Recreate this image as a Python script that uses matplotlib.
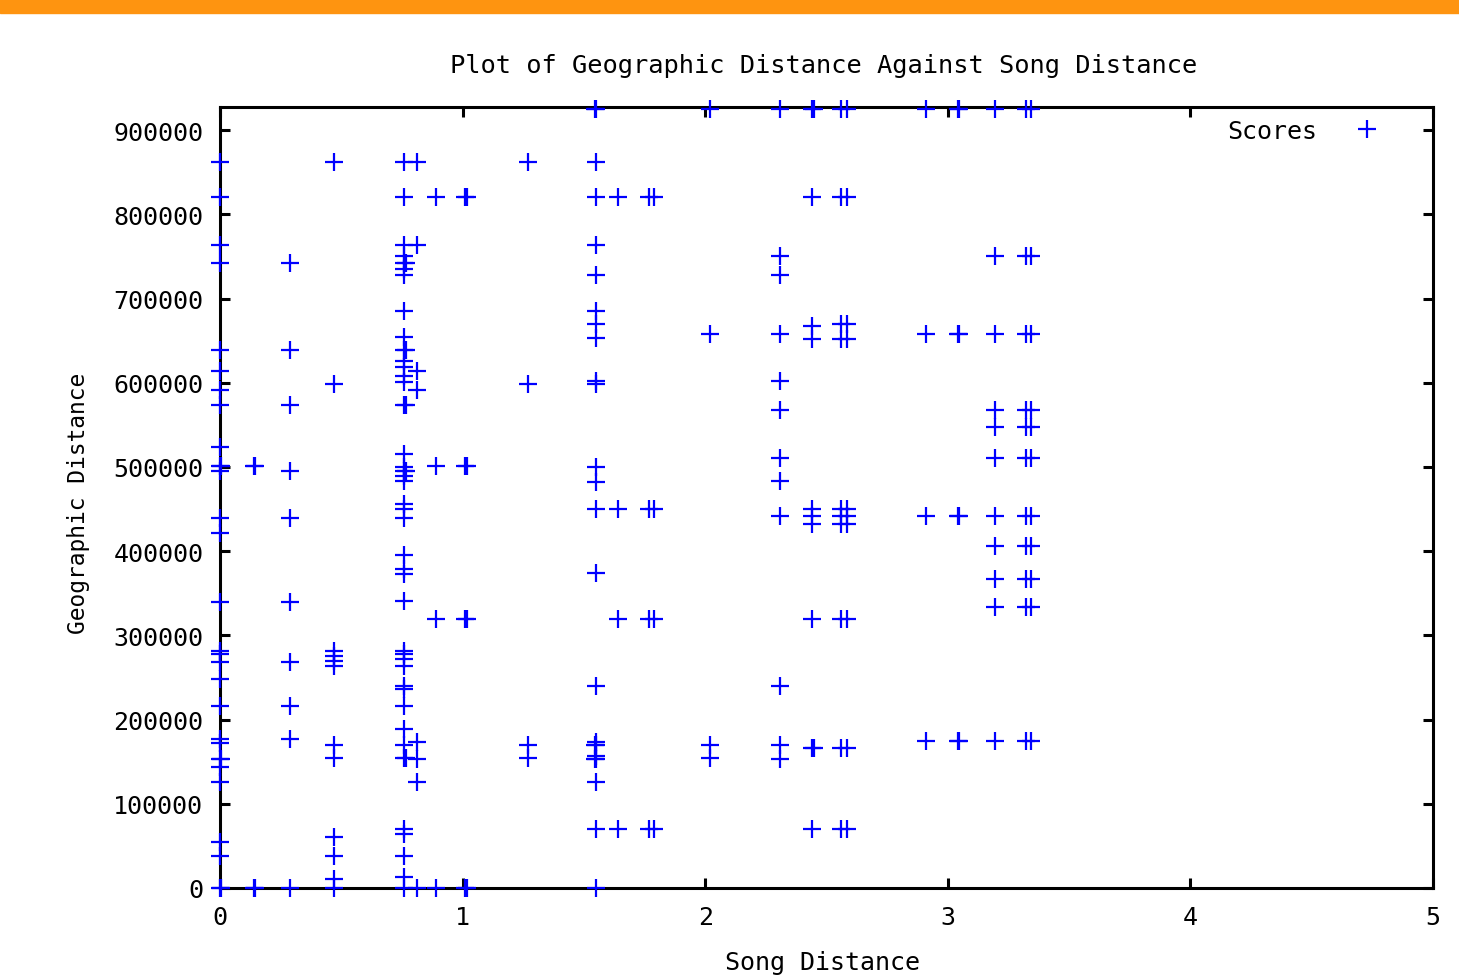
import matplotlib
matplotlib.use("Agg")
import matplotlib.pyplot as plt

# Song distance columns and the geographic distances observed at each
song_distance = [
    0.0, 0.006, 0.14, 0.146, 0.29, 0.47, 0.76, 0.766, 0.81, 0.89, 1.01, 1.02,
    1.27, 1.545, 1.55, 1.64, 1.77, 1.79, 2.02, 2.31, 2.44, 2.447, 2.56, 2.585,
    2.91, 3.04, 3.047, 3.195, 3.322, 3.343,
]

geo_distance = [
    # 0.0
    [862000, 820500, 763500, 742000, 639000, 614000, 591000, 573500, 523500,
     501000, 495000, 439000, 421500, 339500, 281500, 278000, 268000, 248000,
     216000, 177000, 172000, 153000, 143500, 126000, 54500, 38000, 0],
    # 0.006
    [501000, 153000, 0],
    # 0.14
    [501000, 0],
    # 0.146
    [501000, 0],
    # 0.29
    [742000, 639000, 573500, 495000, 439000, 340000, 268000, 216000, 177000, 0],
    # 0.47
    [862000, 598500, 282000, 276000, 270000, 264000, 170000, 154000, 60000,
     38000, 10500, 0],
    # 0.76
    [862000, 820500, 763500, 750500, 742000, 735000, 728000, 685000, 654000,
     639000, 625500, 618500, 608000, 601000, 573500, 515500, 500000, 495000,
     489000, 483500, 456000, 450000, 439500, 395500, 379000, 373000, 340500,
     281500, 278000, 272000, 263500, 240000, 236500, 216000, 189000, 170000,
     154500, 70000, 64000, 38000, 13000, 0],
    # 0.766
    [742000, 639000, 573500, 495000, 154000],
    # 0.81
    [862000, 763500, 614000, 591000, 173000, 153000, 126000, 0],
    # 0.89
    [820500, 501000, 320000, 0],
    # 1.01
    [820500, 501000, 320000, 0],
    # 1.02
    [820500, 501000, 320000, 0],
    # 1.27
    [862000, 598500, 170000, 154000],
    # 1.545
    [925000, 170000, 153000],
    # 1.55
    [925000, 862000, 820500, 763500, 728000, 685000, 670000, 653000, 602000,
     598500, 500000, 482000, 450000, 374000, 240000, 173000, 170000, 157000,
     153000, 126000, 70000, 0],
    # 1.64
    [820500, 450000, 320000, 70000],
    # 1.77
    [820500, 450000, 320000, 70000],
    # 1.79
    [820500, 450000, 320000, 70000],
    # 2.02
    [925000, 658000, 170000, 154000],
    # 2.31
    [925000, 750500, 728000, 658000, 602000, 567500, 510500, 483500, 441500,
     240000, 170000, 153000],
    # 2.44
    [925000, 820500, 667000, 652000, 450000, 441500, 432000, 320000, 166000,
     70000],
    # 2.447
    [925000, 166000],
    # 2.56
    [925000, 820500, 669500, 652000, 450000, 441500, 432000, 320000, 166000,
     70000],
    # 2.585
    [925000, 820500, 669500, 652000, 450000, 441500, 432000, 320000, 166000,
     70000],
    # 2.91
    [925000, 658000, 441500, 174500],
    # 3.04
    [925000, 658000, 441500, 174500],
    # 3.047
    [925000, 658000, 441500, 174500],
    # 3.195
    [925000, 750500, 658000, 567500, 547500, 510500, 441500, 406000, 367000,
     333500, 174500],
    # 3.322
    [925000, 750500, 658000, 567500, 547500, 510500, 441500, 406000, 367000,
     333500, 174500],
    # 3.343
    [925000, 750500, 658000, 567500, 547500, 510500, 441500, 406000, 367000,
     333500, 174500],
]

x_ticks = [0, 1, 2, 3, 4, 5]
y_ticks = [0, 100000, 200000, 300000, 400000, 500000, 600000, 700000, 800000, 900000]

xs, ys = [], []
for sd, geos in zip(song_distance, geo_distance):
    for g in geos:
        xs.append(sd)
        ys.append(g)

FONT = "DejaVu Sans Mono"
plt.rcParams["font.family"] = FONT

fig = plt.figure(figsize=(14.59, 9.79), dpi=100)
fig.patch.set_facecolor("white")

# orange banner along the top edge
fig.patches.append(plt.Rectangle((0, 1 - 14 / 979), 1, 14 / 979,
                                 transform=fig.transFigure,
                                 color="#fe9410", zorder=0))

ax = fig.add_axes([220 / 1459, 90 / 979, 1213 / 1459, 781 / 979])

ax.plot(xs, ys, linestyle="none", marker="+", markersize=13,
        markeredgewidth=1.6, color="#0000ff", clip_on=False, zorder=3,
        label="Scores")

ax.set_xlim(0, 5)
ax.set_ylim(0, 927500)
ax.set_xticks(x_ticks)
ax.set_yticks(y_ticks)
ax.set_xticklabels([str(t) for t in x_ticks])
ax.set_yticklabels([str(t) for t in y_ticks])

for sp in ax.spines.values():
    sp.set_linewidth(2.2)
    sp.set_color("black")

ax.tick_params(direction="in", length=7, width=2.2, top=True, right=True,
               labelsize=18, colors="black")
ax.tick_params(axis="y", pad=12)
ax.tick_params(axis="x", pad=12)

ax.text(0.498, 1.054, "Plot of Geographic Distance Against Song Distance",
        transform=ax.transAxes, ha="center", va="center", fontsize=18.3)

ax.set_xlabel("Song Distance", fontsize=18, va="center")
ax.xaxis.set_label_coords(0.497, -0.095)
ax.set_ylabel("Geographic Distance", fontsize=16.5, va="center")
ax.yaxis.set_label_coords(-0.117, 0.494)

leg = ax.legend(loc="center right", bbox_to_anchor=(0.9695, 0.969),
                frameon=False, markerfirst=False, fontsize=18,
                handlelength=1.5, handletextpad=1.25, borderaxespad=0)

fig.savefig("out.png", dpi=100, facecolor="white")
